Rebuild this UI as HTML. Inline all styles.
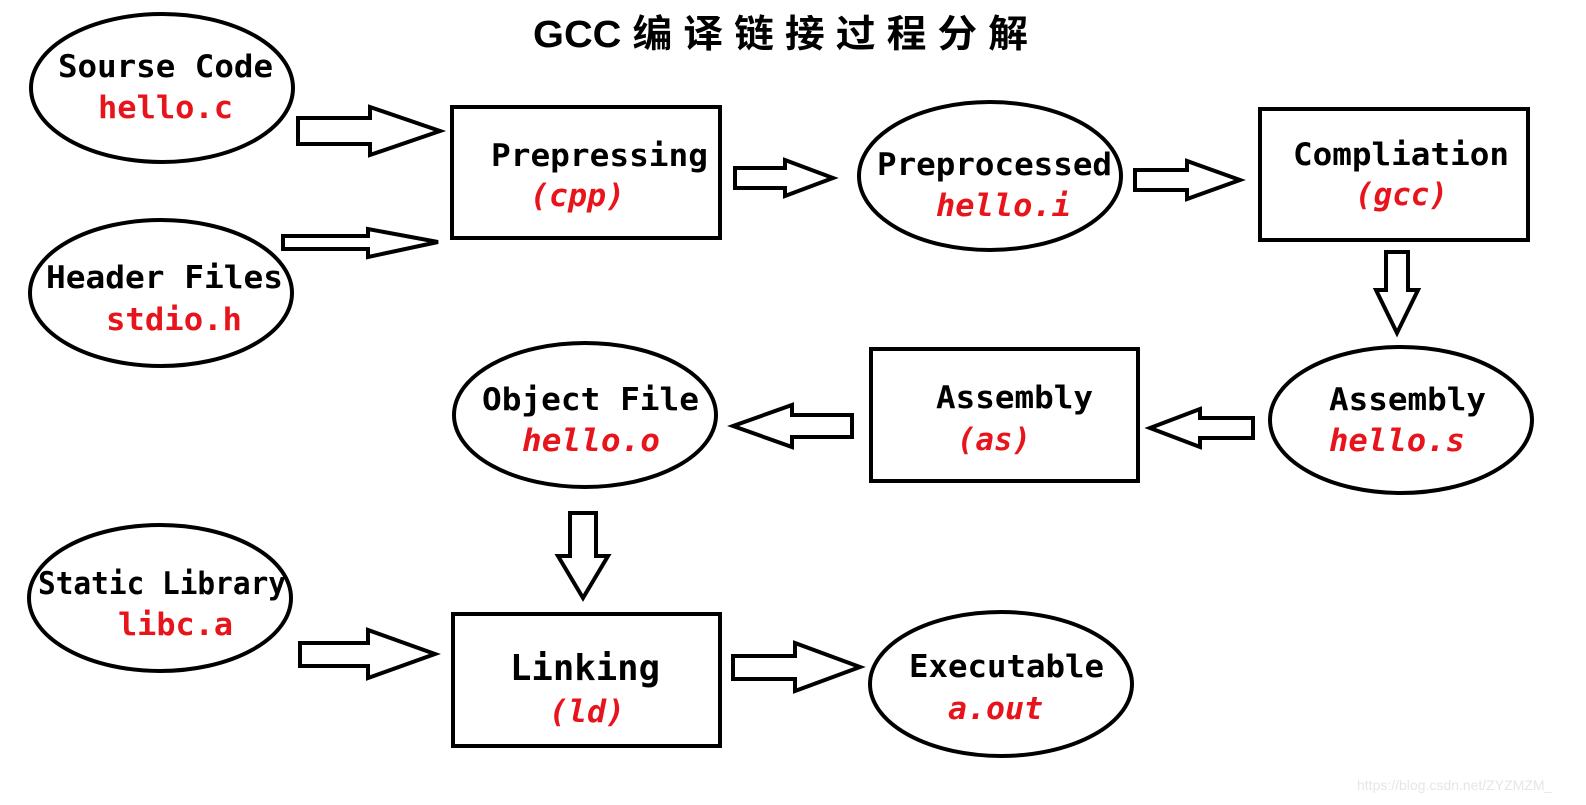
<!DOCTYPE html>
<html><head><meta charset="utf-8"><style>
html,body{margin:0;padding:0;background:#fff;}
svg{display:block}
.t{font-family:"DejaVu Sans Mono","Liberation Mono",monospace;font-weight:bold;font-size:31px;fill:#000}
.r{font-family:"DejaVu Sans Mono","Liberation Mono",monospace;font-weight:bold;font-size:31px;fill:#e8141c}
.i{font-style:italic}
</style></head><body>
<svg width="1586" height="805" viewBox="0 0 1586 805" xmlns="http://www.w3.org/2000/svg">
<g fill="none" stroke="#000" stroke-width="4">
<ellipse cx="162" cy="88" rx="131" ry="74"/>
<ellipse cx="161" cy="293" rx="131" ry="73"/>
<ellipse cx="990" cy="176" rx="131" ry="74"/>
<ellipse cx="1401" cy="420" rx="131" ry="73"/>
<ellipse cx="585" cy="415" rx="131" ry="72"/>
<ellipse cx="160" cy="598" rx="131" ry="73"/>
<ellipse cx="1001" cy="684" rx="131" ry="72"/>
<rect x="452" y="107" width="268" height="131"/>
<rect x="1260" y="109" width="268" height="131"/>
<rect x="871" y="349" width="267" height="132"/>
<rect x="453" y="614" width="267" height="132"/>
<polygon points="298,118 370,118 370,107 440,131 370,155 370,144 298,144"/>
<polygon points="283,236 368,236 368,229 438,242 368,257 368,249 283,249"/>
<polygon points="735,168 785,168 785,160 833,178 785,196 785,188 735,188"/>
<polygon points="1135,170 1187,170 1187,161 1240,180 1187,199 1187,190 1135,190"/>
<polygon points="1386,252 1408,252 1408,290 1418,290 1397,333 1376,290 1386,290"/>
<polygon points="1253,418 1200,418 1200,409 1150,428 1200,447 1200,438 1253,438"/>
<polygon points="852,415 792,415 792,405 733,426 792,447 792,437 852,437"/>
<polygon points="570,513 596,513 596,556 608,556 583,598 558,556 570,556"/>
<polygon points="300,643 368,643 368,630 435,654 368,678 368,666 300,666"/>
<polygon points="733,656 795,656 795,643 860,667 795,691 795,679 733,679"/>
</g>
<text x="533" y="47" textLength="495" lengthAdjust="spacingAndGlyphs" style="font-family:'Liberation Sans','Noto Sans CJK SC',sans-serif;font-weight:bold;font-size:38px">GCC 编 译 链 接 过 程 分 解</text>
<text class="t" x="58" y="77" textLength="215" lengthAdjust="spacingAndGlyphs">Sourse Code</text>
<text class="r" x="98" y="118" textLength="135" lengthAdjust="spacingAndGlyphs">hello.c</text>
<text class="t" x="46" y="288" textLength="237" lengthAdjust="spacingAndGlyphs">Header Files</text>
<text class="r" x="106" y="330" textLength="136" lengthAdjust="spacingAndGlyphs">stdio.h</text>
<text class="t" x="491" y="166" textLength="217" lengthAdjust="spacingAndGlyphs">Prepressing</text>
<text class="r i" x="530" y="206" textLength="95" lengthAdjust="spacingAndGlyphs">(cpp)</text>
<text class="t" x="877" y="175" textLength="235" lengthAdjust="spacingAndGlyphs">Preprocessed</text>
<text class="r i" x="936" y="216" textLength="135" lengthAdjust="spacingAndGlyphs">hello.i</text>
<text class="t" x="1293" y="165" textLength="216" lengthAdjust="spacingAndGlyphs">Compliation</text>
<text class="r i" x="1355" y="205" textLength="93" lengthAdjust="spacingAndGlyphs">(gcc)</text>
<text class="t" x="1329" y="410" textLength="157" lengthAdjust="spacingAndGlyphs">Assembly</text>
<text class="r i" x="1329" y="451" textLength="136" lengthAdjust="spacingAndGlyphs">hello.s</text>
<text class="t" x="936" y="408" textLength="157" lengthAdjust="spacingAndGlyphs">Assembly</text>
<text class="r i" x="957" y="450" textLength="74" lengthAdjust="spacingAndGlyphs">(as)</text>
<text class="t" x="482" y="410" textLength="217" lengthAdjust="spacingAndGlyphs">Object File</text>
<text class="r i" x="522" y="451" textLength="138" lengthAdjust="spacingAndGlyphs">hello.o</text>
<text class="t" x="38" y="594" textLength="248" lengthAdjust="spacingAndGlyphs">Static Library</text>
<text class="r" x="118" y="635" textLength="115" lengthAdjust="spacingAndGlyphs">libc.a</text>
<text class="t" x="510" y="680" textLength="150" lengthAdjust="spacingAndGlyphs" style="font-size:36px">Linking</text>
<text class="r i" x="549" y="722" textLength="76" lengthAdjust="spacingAndGlyphs">(ld)</text>
<text class="t" x="909" y="677" textLength="195" lengthAdjust="spacingAndGlyphs">Executable</text>
<text class="r i" x="948" y="719" textLength="95" lengthAdjust="spacingAndGlyphs">a.out</text>
<text x="1357" y="790" style="font-family:'Liberation Sans',sans-serif;font-size:14px;fill:#e6e6e6">https://blog.csdn.net/ZYZMZM_</text>
</svg>
</body></html>
